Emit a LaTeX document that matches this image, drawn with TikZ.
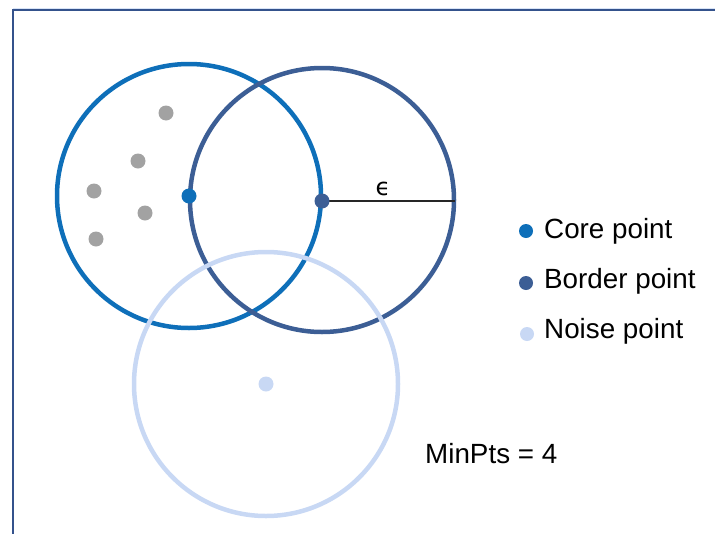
\documentclass[tikz,border=0pt]{standalone}
\usepackage{fontspec}
\setmainfont{Liberation Sans}
\newfontfamily\greekfont{DejaVu Sans}
\definecolor{coreblue}{HTML}{0E6FB9}
\definecolor{borderblue}{HTML}{3C5E95}
\definecolor{noiseblue}{HTML}{C8D8F4}
\definecolor{pointgray}{HTML}{A2A2A2}
\definecolor{framecol}{HTML}{34528C}
\begin{document}
\begin{tikzpicture}[x=1pt,y=-1pt,
  ring/.style={circle,draw=#1,line width=4.5pt,minimum size=264pt,inner sep=0pt},
  dot/.style={circle,fill=#1,minimum size=15pt,inner sep=0pt},
  keydot/.style={circle,fill=#1,minimum size=14pt,inner sep=0pt},
  label/.style={font=\fontsize{27.8}{32}\selectfont,anchor=base west,inner sep=0pt}]
  \useasboundingbox (0,0) rectangle (715,533);
  % frame, open on the right and at the bottom
  \draw[noiseblue!70!white,line width=1pt] (13,8) -- (720,8);
  \draw[framecol,line width=2pt] (13,540) -- (13,9.5) -- (720,9.5);
  % eps-neighbourhoods
  \node[ring=coreblue]   (core)   at (189,196) {};
  \node[ring=borderblue] (border) at (322,200) {};
  \node[ring=noiseblue]  (noise)  at (266,384) {};
  % neighbours of the core point
  \node[dot=pointgray] (g1) at (166,113) {};
  \node[dot=pointgray] (g2) at (138,161) {};
  \node[dot=pointgray] (g3) at (94,191) {};
  \node[dot=pointgray] (g4) at (145,213) {};
  \node[dot=pointgray] (g5) at (96,239) {};
  % radius
  \coordinate (rim) at (455,201);
  \draw[black!85,line width=1.5pt] (322,201) -- (rim);
  \node[font=\greekfont\fontsize{24}{28}\selectfont,inner sep=0pt] (eps) at (383,188.5) {ϵ};
  % labelled points
  \node[dot=coreblue]   (cp) at (189,196) {};
  \node[dot=borderblue] (bp) at (322,201) {};
  \node[dot=noiseblue]  (np) at (266,384) {};
  % legend
  \node[keydot=coreblue]   (k1) at (526,231) {};
  \node[keydot=borderblue] (k2) at (526,283) {};
  \node[keydot=noiseblue]  (k3) at (527,334) {};
  \node[label] (t1) at (544,238) {Core point};
  \node[label] (t2) at (544,288) {Border point};
  \node[label] (t3) at (544,338.5) {Noise point};
  \node[label] (mp) at (425,463) {MinPts = 4};
\end{tikzpicture}
\end{document}
